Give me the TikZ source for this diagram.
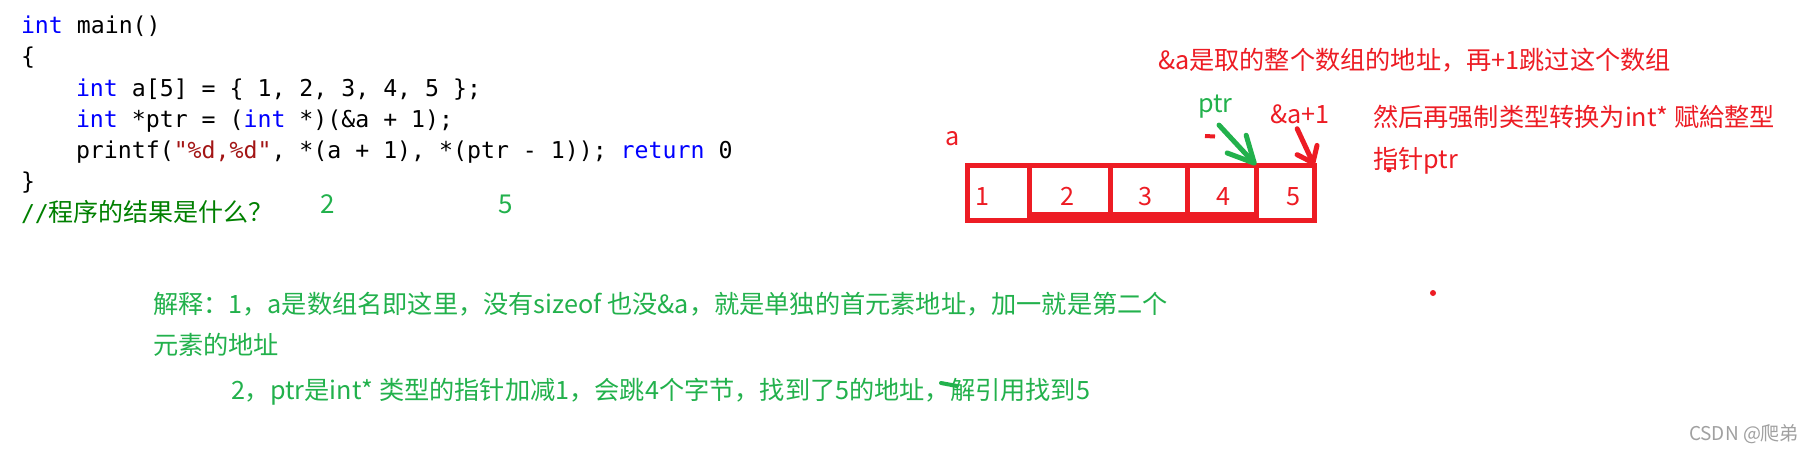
\documentclass[tikz,border=0pt]{standalone}
\usepackage{fontspec}
\usepackage{tikz}
\usetikzlibrary{positioning,arrows.meta}
\setmonofont{DejaVu Sans Mono}
\newfontfamily\cjk{Noto Sans CJK SC}
\definecolor{kwblue}{RGB}{0,0,255}
\definecolor{strred}{RGB}{163,21,21}
\definecolor{cmtgreen}{RGB}{0,128,0}
\definecolor{penred}{RGB}{237,28,36}
\definecolor{pengreen}{RGB}{34,177,76}
\definecolor{wmgray}{RGB}{160,160,160}
\newcommand\codefont{\ttfamily\fontsize{23.2}{27}\selectfont}
\newcommand\notefont{\cjk\fontsize{25.2}{30}\selectfont}
\newcommand\kw[1]{\textcolor{kwblue}{#1}}
\tikzset{code/.style={anchor=base west, inner sep=0pt, outer sep=0pt, font=\codefont}}
\tikzset{note/.style={anchor=base west, inner sep=0pt, outer sep=0pt, font=\notefont}}
\tikzset{num/.style={anchor=base, inner sep=0pt, text=penred, font=\notefont}}
\tikzset{cell/.style={draw=penred, line width=5pt, inner sep=0pt, outer sep=0pt, minimum height=55pt}}

\begin{document}
\begin{tikzpicture}[x=1pt,y=-1pt]
\path[use as bounding box, fill=white] (0,0) rectangle (1815,456);
\node[code] (l1) at (21,33) {\kw{int} main()};
\node[code] (l2) at (21,64) {\{};
\node[code] (l3) at (76,96) {\kw{int} a[5] = \{ 1, 2, 3, 4, 5 \};};
\node[code] (l4) at (76,127) {\kw{int} *ptr = (\kw{int} *)(\&a + 1);};
\node[code] (l5) at (76,158) {printf(\textcolor{strred}{"\%d,\%d"}, *(a + 1), *(ptr - 1)); \kw{return} 0};
\node[code] (l6) at (21,189) {\}};
\node[code, text=cmtgreen] (l7) at (21,221) {//{\cjk\fontsize{25}{30}\selectfont 程序的结果是什么？}};
\node[note, text=pengreen, font=\cjk\fontsize{26}{30}\selectfont] (r1) at (320,213) {2};
\node[note, text=pengreen, font=\cjk\fontsize{26}{30}\selectfont] (r2) at (498,213) {5};

\node[cell, minimum width=62pt] (c1) at (998,192.5) {};
\foreach \i/\j/\w in {2/1/81,3/2/77,4/3/69,5/4/58}{
\node[cell, minimum width=\w pt, right=0pt of c\j] (c\i) {};
}
\fill[penred] ([yshift=8pt]c2.south west) rectangle ([yshift=-2.5pt]c4.south east);
\foreach \i/\x in {1/982,2/1067,3/1145,4/1223,5/1293}{
\node[num] (n\i) at (\x,205) {\i};
}
\node[note, text=penred] (a) at (945,145) {a};
\node[note, text=pengreen] (ptr) at (1198,112) {ptr};
\node[note, text=penred] (amp) at (1270,123) {\&a+1};

\draw[pengreen, line width=5pt, line cap=round, shorten <=10pt, -{Straight Barb[length=26pt,width=26pt,round]}]
([xshift=-3pt]ptr.south) -- (c4.north east);
\draw[penred, line width=5pt, line cap=round, shorten <=6pt, -{Straight Barb[length=14pt,width=22pt,round]}]
([xshift=-5pt]amp.south) -- (c5.north east);
\draw[penred, line width=4pt] (1205,136) -- (1215,136.5);

\node[note, text=penred] (t1) at (1158,69) {\&a是取的整个数组的地址，再+1跳过这个数组};
\node[note, text=penred] (t2) at (1373,126) {然后再强制类型转换为int* 赋給整型};
\node[note, text=penred] (t3) at (1373,168) {指针ptr};
\fill[penred] (1389,170) circle (2.5pt);
\fill[penred] (1433,293) circle (3pt);

\node[note, text=pengreen] (e1) at (153,313) {解释：1，a是数组名即这里，没有sizeof 也没\&a，就是单独的首元素地址，加一就是第二个};
\node[note, text=pengreen] (e2) at (153,354) {元素的地址};
\node[note, text=pengreen] (e3) at (231,399) {2，ptr是int* 类型的指针加减1，会跳4个字节，找到了5的地址，解引用找到5};
\draw[pengreen, line width=4pt, line cap=round] (941,383) -- (957,386);

\node[note, text=wmgray, font=\cjk\fontsize{19}{22}\selectfont] (wm) at (1689,440) {CSDN @爬弟};
\end{tikzpicture}
\end{document}
